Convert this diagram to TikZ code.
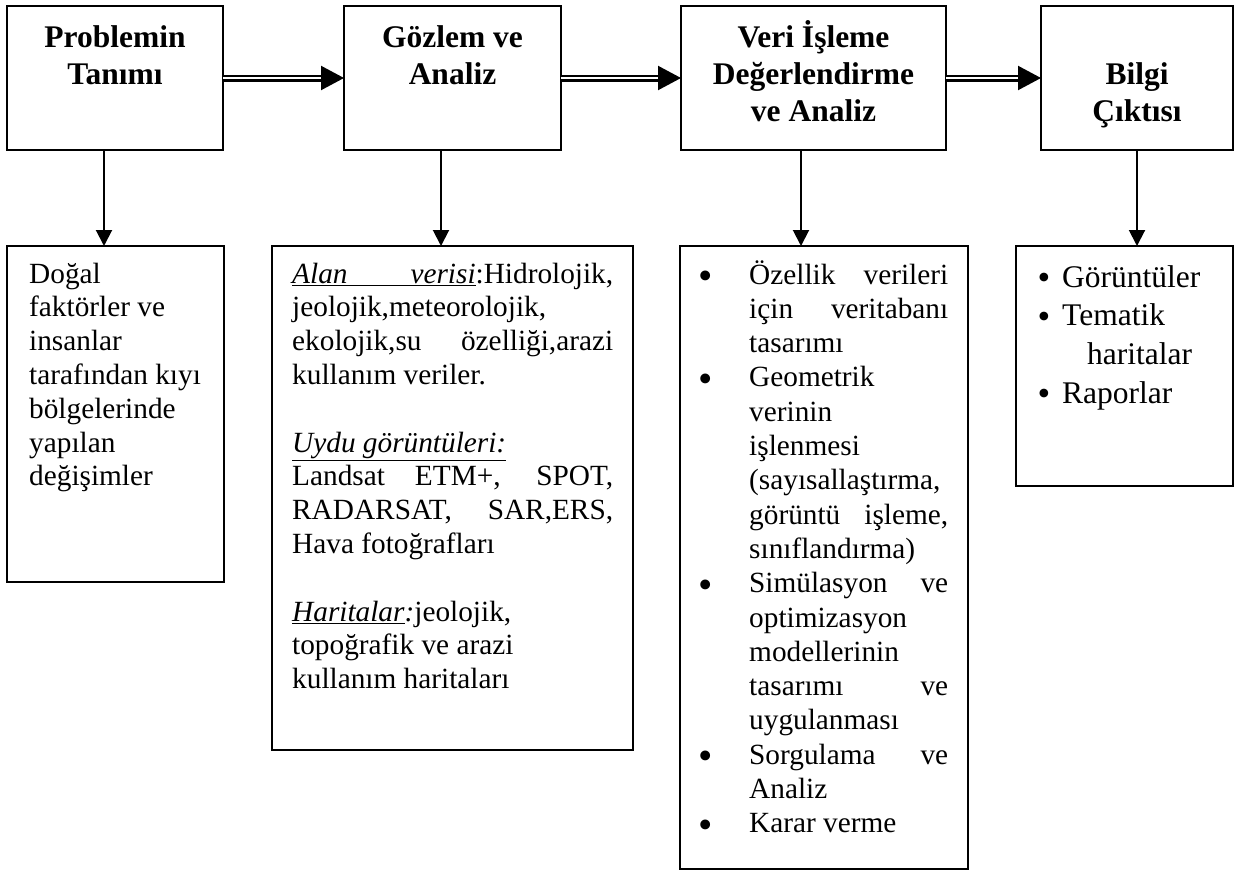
\documentclass[tikz,border=0pt]{standalone}
\usepackage{fontspec}
\setmainfont{Liberation Serif}
\usepackage{graphicx}
\usetikzlibrary{arrows.meta}

\newcommand{\blt}{\par\leavevmode\llap{\raisebox{-5.5pt}{\scalebox{1.4}{\textbullet}}\hspace{36pt}}}
\newcommand{\sbl}{\leavevmode\llap{\raisebox{-2.5pt}{\scalebox{1.15}{\textbullet}}\hspace{12pt}}}
\newlength{\restw}

\begin{document}
\begin{tikzpicture}[x=1pt, y=-1pt,
  box/.style={draw, line width=2pt, anchor=north west, inner sep=0pt, outer sep=0pt},
  ttl/.style={anchor=base, inner sep=0pt, font=\fontsize{31.5}{37}\selectfont\bfseries},
  txt/.style={anchor=base west, inner sep=0pt, font=\fontsize{29.3}{33.8}\selectfont},
  dbl/.style={double, double distance=2.6pt, line width=2.2pt, -{Triangle[length=23pt,width=24pt]}},
  dn/.style={line width=2pt, -{Triangle[length=16pt,width=16pt]}}]
  \useasboundingbox (0,0) rectangle (1235,870);

  \node[box, minimum width=216, minimum height=144] (prob) at (7,6) {};
  \node[box, minimum width=217, minimum height=144] (gozlem) at (344,6) {};
  \node[box, minimum width=265, minimum height=144] (veri) at (681,6) {};
  \node[box, minimum width=192, minimum height=144] (bilgi) at (1041,6) {};

  \node[box, minimum width=217, minimum height=336] (fakt) at (7,246) {};
  \node[box, minimum width=361, minimum height=504] (alan) at (272,246) {};
  \node[box, minimum width=288, minimum height=623] (islem) at (680,246) {};
  \node[box, minimum width=217, minimum height=240] (cikti) at (1016,246) {};

  \node[ttl] (probt) at (115,47) {\parbox[t]{200pt}{\centering Problemin\\Tanımı}};
  \node[ttl] (gozlemt) at (452.5,47) {\parbox[t]{200pt}{\centering Gözlem ve\\Analiz}};
  \node[ttl] (verit) at (813.5,47) {\parbox[t]{250pt}{\centering Veri İşleme\\Değerlendirme\\ve Analiz}};
  \node[ttl] (bilgit) at (1137,84) {\parbox[t]{180pt}{\centering Bilgi\\Çıktısı}};

  \node[txt] (faktt) at (29,283) {\parbox[t]{190pt}{Doğal\\faktörler ve\\insanlar\\tarafından kıyı\\bölgelerinde\\yapılan\\değişimler}};
  \node[txt] (alant) at (292,283) {\parbox[t]{321pt}{\settowidth{\restw}{:Hidrolojik,}%
    \underline{\makebox[\dimexpr\linewidth-\restw][s]{\itshape Alan verisi}}:Hidrolojik,\\
    jeolojik,meteorolojik,\\
    ekolojik,su özelliği,arazi\linebreak
    kullanım veriler.\\[33.8pt]
    \underline{\textit{Uydu görüntüleri:}}\\
    Landsat ETM+, SPOT,\linebreak
    RADARSAT, SAR,ERS,\linebreak
    Hava fotoğrafları\\[33.8pt]
    \underline{\textit{Haritalar}}\textit{:}jeolojik,\\
    topoğrafik ve arazi\\
    kullanım haritaları}};
  \node[txt, font=\fontsize{29.3}{34.3}\selectfont] (islemt) at (749,284) {\parbox[t]{199pt}{%
    \blt Özellik verileri\linebreak için veritabanı\linebreak tasarımı
    \blt Geometrik\\ verinin\\ işlenmesi\\ (sayısallaştırma,\\ görüntü işleme,\linebreak sınıflandırma)
    \blt Simülasyon ve\linebreak optimizasyon\\ modellerinin\\ tasarımı ve\linebreak uygulanması
    \blt Sorgulama ve\linebreak Analiz
    \blt Karar verme}};
  \node[txt, font=\fontsize{31.5}{38.7}\selectfont] (ciktit) at (1062,287) {\parbox[t]{165pt}{%
    \sbl Görüntüler\\ \sbl Tematik\\ \hspace*{25pt}haritalar\\ \sbl Raporlar}};

  \draw[dbl] (prob.east) -- (gozlem.west);
  \draw[dbl] (gozlem.east) -- (veri.west);
  \draw[dbl] (veri.east) -- (bilgi.west);

  \draw[dn] ([xshift=-11pt]prob.south) -- ([xshift=-11pt]prob.south |- fakt.north);
  \draw[dn] ([xshift=-11.5pt]gozlem.south) -- ([xshift=-11.5pt]gozlem.south |- alan.north);
  \draw[dn] ([xshift=-12.5pt]veri.south) -- ([xshift=-12.5pt]veri.south |- islem.north);
  \draw[dn] (bilgi.south) -- (bilgi.south |- cikti.north);
\end{tikzpicture}
\end{document}
